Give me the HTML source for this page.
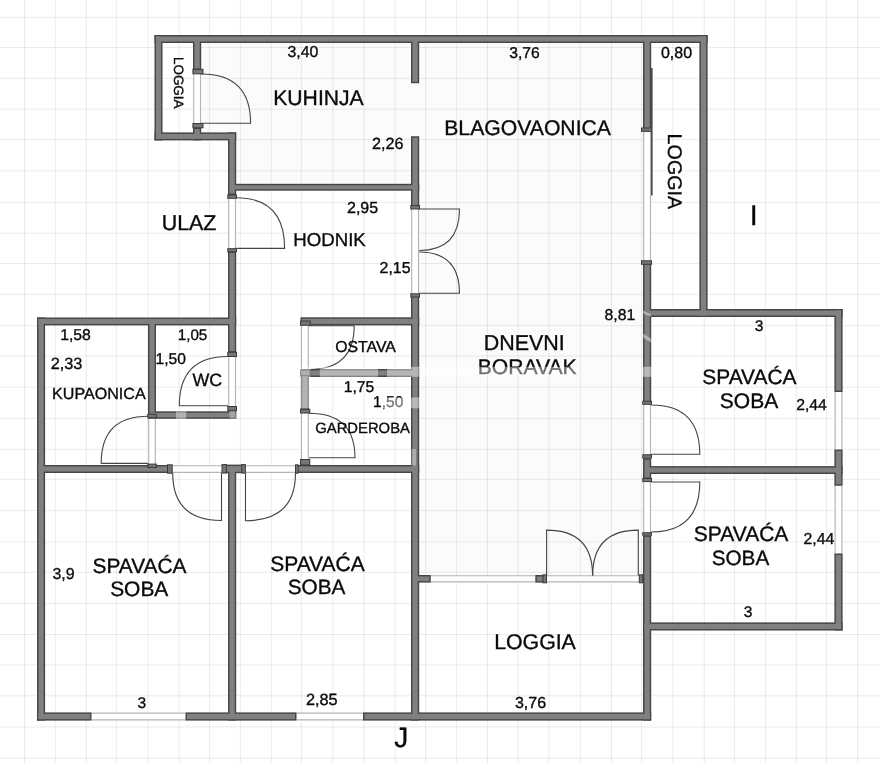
<!DOCTYPE html><html><head><meta charset="utf-8"><style>
html,body{margin:0;padding:0;background:#fff;width:880px;height:763px;overflow:hidden}
svg{display:block;will-change:transform}
text{font-family:"Liberation Sans",sans-serif;fill:#0a0a0a;stroke:#0a0a0a;stroke-width:0.35px;text-rendering:geometricPrecision}
</style></head><body>
<svg width="880" height="763" viewBox="0 0 880 763">
<rect width="880" height="763" fill="#fff"/>
<path d="M201,42 L643.5,42 L643.5,575.5 L418.5,575.5 L418.5,190 L236,190 L236,140 L201,140 Z" fill="#fbfbfb"/>
<path d="M24.5,0V763M55.3,0V763M86.25,0V763M116.4,0V763M147.9,0V763M179.1,0V763M209.6,0V763M240.4,0V763M271.3,0V763M301.3,0V763M332.8,0V763M364,0V763M395.2,0V763M425.7,0V763M456.6,0V763M487.5,0V763M518.1,0V763M548.9,0V763M580.4,0V763M611.5,0V763M641.6,0V763M672.9,0V763M704.3,0V763M734.6,0V763M765.4,0V763M796.3,0V763M826.4,0V763M857.7,0V763" stroke="#000" stroke-opacity="0.08" stroke-width="1.0" fill="none"/>
<path d="M0,17.4H880M0,47.5H880M0,78.4H880M0,109.2H880M0,139.6H880M0,170.8H880M0,202.4H880M0,233.2H880M0,263.5H880M0,294.4H880M0,325.7H880M0,356H880M0,387.2H880M0,418.4H880M0,449.4H880M0,479.4H880M0,510.6H880M0,541.9H880M0,572.3H880M0,603.4H880M0,634.5H880M0,664.9H880M0,695.8H880M0,727H880M0,758.2H880" stroke="#000" stroke-opacity="0.08" stroke-width="1.0" fill="none"/>
<rect x="193" y="70" width="8.2" height="57.5" fill="#fff"/>
<path d="M193.7,70V127.5M200.5,70V127.5" stroke="#b4b4b4" stroke-width="1.15" fill="none"/>
<rect x="228" y="195" width="8.2" height="56.5" fill="#fff"/>
<path d="M228.7,195V251.5M235.5,195V251.5" stroke="#b4b4b4" stroke-width="1.15" fill="none"/>
<rect x="411" y="207" width="8.2" height="88.5" fill="#fff"/>
<path d="M411.7,207V295.5M418.5,207V295.5" stroke="#b4b4b4" stroke-width="1.15" fill="none"/>
<rect x="228" y="352.5" width="8.2" height="55.5" fill="#fff"/>
<path d="M228.7,352.5V408M235.5,352.5V408" stroke="#b4b4b4" stroke-width="1.15" fill="none"/>
<rect x="148" y="414" width="8" height="51" fill="#fff"/>
<path d="M148.7,414V465M155.3,414V465" stroke="#b4b4b4" stroke-width="1.15" fill="none"/>
<rect x="300.8" y="325.4" width="8.2" height="43.6" fill="#fff"/>
<path d="M301.5,325.4V369M308.3,325.4V369" stroke="#b4b4b4" stroke-width="1.15" fill="none"/>
<rect x="300.8" y="410" width="8.2" height="55" fill="#fff"/>
<path d="M301.5,410V465M308.3,410V465" stroke="#b4b4b4" stroke-width="1.15" fill="none"/>
<rect x="171.5" y="465" width="50.5" height="8" fill="#fff"/>
<path d="M171.5,465.7H222M171.5,472.3H222" stroke="#b4b4b4" stroke-width="1.15" fill="none"/>
<rect x="245.5" y="465" width="50" height="8" fill="#fff"/>
<path d="M245.5,465.7H295.5M245.5,472.3H295.5" stroke="#b4b4b4" stroke-width="1.15" fill="none"/>
<rect x="91.5" y="712.4" width="94" height="8.2" fill="#fff"/>
<path d="M91.5,713.1H185.5M91.5,719.9H185.5" stroke="#b4b4b4" stroke-width="1.15" fill="none"/>
<rect x="296.5" y="712.4" width="66.5" height="8.2" fill="#fff"/>
<path d="M296.5,713.1H363M296.5,719.9H363" stroke="#b4b4b4" stroke-width="1.15" fill="none"/>
<rect x="430.75" y="575" width="104.55" height="7.6" fill="#fff"/>
<path d="M430.75,575.7H535.3M430.75,581.9H535.3" stroke="#b4b4b4" stroke-width="1.15" fill="none"/>
<rect x="546.8" y="575" width="96.2" height="7.6" fill="#fff"/>
<path d="M546.8,575.7H643M546.8,581.9H643" stroke="#b4b4b4" stroke-width="1.15" fill="none"/>
<rect x="643" y="131.5" width="8.2" height="129.5" fill="#fff"/>
<path d="M643.7,131.5V261M650.5,131.5V261" stroke="#b4b4b4" stroke-width="1.15" fill="none"/>
<rect x="643" y="404" width="8.2" height="54.5" fill="#fff"/>
<path d="M643.7,404V458.5M650.5,404V458.5" stroke="#b4b4b4" stroke-width="1.15" fill="none"/>
<rect x="643" y="479" width="8.2" height="56.5" fill="#fff"/>
<path d="M643.7,479V535.5M650.5,479V535.5" stroke="#b4b4b4" stroke-width="1.15" fill="none"/>
<rect x="834.4" y="392" width="8.2" height="57.5" fill="#fff"/>
<path d="M835.1,392V449.5M841.9,392V449.5" stroke="#b4b4b4" stroke-width="1.15" fill="none"/>
<rect x="834.4" y="485.75" width="8.2" height="67.75" fill="#fff"/>
<path d="M835.1,485.75V553.5M841.9,485.75V553.5" stroke="#b4b4b4" stroke-width="1.15" fill="none"/>
<g fill="#464646">
<rect x="154.5" y="35" width="553.1" height="8"/>
<rect x="154.5" y="35" width="8" height="105.4"/>
<rect x="154.5" y="132.4" width="81.7" height="8"/>
<rect x="193" y="37" width="8.2" height="33"/>
<rect x="193" y="127.5" width="8.2" height="12.9"/>
<rect x="228" y="132.4" width="8.2" height="62.6"/>
<rect x="228" y="183.8" width="191.2" height="6.9"/>
<rect x="411" y="37" width="8.2" height="46.25"/>
<rect x="411" y="136.25" width="8.2" height="70.75"/>
<rect x="228" y="251.5" width="8.2" height="101"/>
<rect x="37" y="317.5" width="199.2" height="7.9"/>
<rect x="37" y="317.5" width="8.1" height="403.1"/>
<rect x="148" y="320" width="8" height="94"/>
<rect x="148" y="411.3" width="88.2" height="7.5"/>
<rect x="228" y="408" width="8.2" height="10.8"/>
<rect x="37" y="465" width="134.5" height="8"/>
<rect x="222" y="464.6" width="23.5" height="8.6"/>
<rect x="228" y="465" width="8.2" height="255.6"/>
<rect x="295.5" y="465" width="123.7" height="8"/>
<rect x="37" y="712.4" width="54.5" height="8.2"/>
<rect x="185.5" y="712.4" width="111" height="8.2"/>
<rect x="363" y="712.4" width="288.2" height="8.2"/>
<rect x="411" y="295.5" width="8.2" height="425.1"/>
<rect x="300.5" y="317.3" width="118.7" height="8.1"/>
<rect x="300.5" y="369" width="118.7" height="8"/>
<rect x="300.8" y="369" width="8.2" height="41"/>
<rect x="412" y="575" width="18.75" height="7.6"/>
<rect x="535.3" y="575" width="11.5" height="7.6"/>
<rect x="643" y="37" width="8.2" height="94.5"/>
<rect x="643" y="261" width="8.2" height="143"/>
<rect x="643" y="458.5" width="8.2" height="20.5"/>
<rect x="643" y="535.5" width="8.2" height="185.1"/>
<rect x="699.4" y="35" width="8.2" height="282"/>
<rect x="643" y="309" width="199.6" height="8"/>
<rect x="834.4" y="309" width="8.2" height="83"/>
<rect x="834.4" y="449.5" width="8.2" height="36.25"/>
<rect x="834.4" y="553.5" width="8.2" height="77"/>
<rect x="644" y="466.1" width="198.6" height="7.9"/>
<rect x="643" y="622.4" width="199.6" height="8.1"/>
</g>
<g fill="#808080">
<rect x="155.95" y="36.45" width="550.2" height="5.1"/>
<rect x="155.95" y="36.45" width="5.1" height="102.5"/>
<rect x="155.95" y="133.85" width="78.8" height="5.1"/>
<rect x="194.45" y="38.45" width="5.3" height="30.1"/>
<rect x="194.45" y="128.95" width="5.3" height="10"/>
<rect x="229.45" y="133.85" width="5.3" height="59.7"/>
<rect x="229.45" y="185.25" width="188.3" height="4"/>
<rect x="412.45" y="38.45" width="5.3" height="43.35"/>
<rect x="412.45" y="137.7" width="5.3" height="67.85"/>
<rect x="229.45" y="252.95" width="5.3" height="98.1"/>
<rect x="38.45" y="318.95" width="196.3" height="5"/>
<rect x="38.45" y="318.95" width="5.2" height="400.2"/>
<rect x="149.45" y="321.45" width="5.1" height="91.1"/>
<rect x="149.45" y="412.75" width="85.3" height="4.6"/>
<rect x="229.45" y="409.45" width="5.3" height="7.9"/>
<rect x="38.45" y="466.45" width="131.6" height="5.1"/>
<rect x="223.45" y="466.05" width="20.6" height="5.7"/>
<rect x="229.45" y="466.45" width="5.3" height="252.7"/>
<rect x="296.95" y="466.45" width="120.8" height="5.1"/>
<rect x="38.45" y="713.85" width="51.6" height="5.3"/>
<rect x="186.95" y="713.85" width="108.1" height="5.3"/>
<rect x="364.45" y="713.85" width="285.3" height="5.3"/>
<rect x="412.45" y="296.95" width="5.3" height="422.2"/>
<rect x="301.95" y="318.75" width="115.8" height="5.2"/>
<rect x="301.95" y="370.45" width="115.8" height="5.1"/>
<rect x="302.25" y="370.45" width="5.3" height="38.1"/>
<rect x="413.45" y="576.45" width="15.85" height="4.7"/>
<rect x="536.75" y="576.45" width="8.6" height="4.7"/>
<rect x="644.45" y="38.45" width="5.3" height="91.6"/>
<rect x="644.45" y="262.45" width="5.3" height="140.1"/>
<rect x="644.45" y="459.95" width="5.3" height="17.6"/>
<rect x="644.45" y="536.95" width="5.3" height="182.2"/>
<rect x="700.85" y="36.45" width="5.3" height="279.1"/>
<rect x="644.45" y="310.45" width="196.7" height="5.1"/>
<rect x="835.85" y="310.45" width="5.3" height="80.1"/>
<rect x="835.85" y="450.95" width="5.3" height="33.35"/>
<rect x="835.85" y="554.95" width="5.3" height="74.1"/>
<rect x="645.45" y="467.55" width="195.7" height="5"/>
<rect x="644.45" y="623.85" width="196.7" height="5.2"/>
</g>
<g fill="#767676" stroke="#3a3a3a" stroke-width="1">
<rect x="192.9" y="69.3" width="10.1" height="4.5"/>
<rect x="192.9" y="123.5" width="10.1" height="4.3"/>
<rect x="227.8" y="194.9" width="8.7" height="3.4"/>
<rect x="227.8" y="248.7" width="8.7" height="3.1"/>
<rect x="410.8" y="205.5" width="8.7" height="3.5"/>
<rect x="410.8" y="293.8" width="8.7" height="3.3"/>
<rect x="227.8" y="352.3" width="8.7" height="4.2"/>
<rect x="227.8" y="406.5" width="8.7" height="4.2"/>
<rect x="147.8" y="414.3" width="8.5" height="3.4"/>
<rect x="147.8" y="464.1" width="8.5" height="3.4"/>
<rect x="300.5" y="321" width="9.7" height="4.2"/>
<rect x="300.5" y="370.2" width="9.7" height="5.3"/>
<rect x="300.5" y="409.3" width="9.3" height="3.7"/>
<rect x="300.5" y="459.5" width="9.3" height="5.4"/>
<rect x="167.5" y="464.8" width="4.7" height="8.4"/>
<rect x="222" y="464.6" width="4.4" height="8.4"/>
<rect x="241.7" y="464.6" width="3.6" height="8.4"/>
<rect x="295.5" y="464.8" width="2.6" height="8.4"/>
<rect x="543" y="574.8" width="3.5" height="8"/>
<rect x="639.3" y="574.8" width="3.4" height="8"/>
<rect x="642.8" y="401.3" width="8.7" height="3"/>
<rect x="642.8" y="454.8" width="8.7" height="3.3"/>
<rect x="642.8" y="478.4" width="8.7" height="3.2"/>
<rect x="642.8" y="532.7" width="8.7" height="2.5"/>
<rect x="641.5" y="128" width="10" height="3.3"/>
<rect x="641.5" y="260.8" width="10" height="3.5"/>
</g>
<g stroke="#444444" stroke-width="1.1" fill="none">
<path d="M201.2,123.3 L250.6,123.3 Q250.6,74 201.2,74"/>
<path d="M236.2,248.4 L284.6,248.4 Q284.6,197.8 236.2,197.8"/>
<path d="M419.2,209 L459.5,209 Q459.5,250.5 419.2,250.5"/>
<path d="M419.2,293.3 L459.5,293.3 Q459.5,252 419.2,252"/>
<path d="M228,405.7 L179.3,405.7 Q179.3,356.5 228,356.5"/>
<path d="M148,463.4 L101.2,463.4 Q101.2,416.3 148,416.3"/>
<path d="M309,325.8 L354.2,325.8 Q354.2,369.5 309,369.5"/>
<path d="M309,457.7 L355,457.7 Q355,413.2 309,413.2"/>
<path d="M221.5,473 L221.5,520.5 Q172.7,520.5 172.7,473"/>
<path d="M245.5,473 L245.5,520.7 Q295.5,520.7 295.5,473"/>
<path d="M546.6,575.5 L546.6,530.1 Q592.6,530.1 592.6,575.5"/>
<path d="M638.3,575.5 L638.3,530.1 Q592.7,530.1 592.7,575.5"/>
<path d="M651.2,454.3 L699.8,454.3 Q699.8,405 651.2,405"/>
<path d="M651.2,482 L699.8,482 Q699.8,532 651.2,532"/>
</g>
<rect x="651" y="68" width="1.6" height="127.5" fill="#4a4a4a"/>
<g opacity="0.999">
<text x="287.52" y="57.37" font-size="15.85">3,40</text>
<text x="509.23" y="57.89" font-size="15.61">3,76</text>
<text x="660.97" y="58.27" font-size="16.01">0,80</text>
<text x="273.26" y="104.67" font-size="21.15">KUHINJA</text>
<text x="444.26" y="134.81" font-size="21.18">BLAGOVAONICA</text>
<text x="371.99" y="148.53" font-size="16.18">2,26</text>
<text x="161.7" y="229.99" font-size="21.42">ULAZ</text>
<text x="293.31" y="246.48" font-size="18.65">HODNIK</text>
<text x="347" y="213.03" font-size="16.02">2,95</text>
<text x="379.61" y="272.62" font-size="15.86">2,15</text>
<text x="749.76" y="224.98" font-size="28.5">I</text>
<text x="604.57" y="320.08" font-size="15.75">8,81</text>
<text x="754.79" y="331.3" font-size="15.5">3</text>
<text x="60.2" y="339.74" font-size="15.76">1,58</text>
<text x="177.73" y="339.55" font-size="15.22">1,05</text>
<text x="50.79" y="368.8" font-size="16.24">2,33</text>
<text x="155.51" y="363.83" font-size="15.6">1,50</text>
<text x="52.11" y="398.85" font-size="16.08">KUPAONICA</text>
<text x="192.5" y="386.44" font-size="17.81">WC</text>
<text x="335.17" y="352.01" font-size="15.83">OSTAVA</text>
<text x="343.7" y="391.62" font-size="15.71">1,75</text>
<text x="373.01" y="406.88" font-size="15.6">1,50</text>
<text x="315.26" y="432.61" font-size="14.82">GARDEROBA</text>
<text x="483.78" y="350.25" font-size="21.44">DNEVNI</text>
<text x="477.71" y="374.14" font-size="21.13">BORAVAK</text>
<text x="702.36" y="384.12" font-size="20.92">SPAVAĆA</text>
<text x="719.86" y="407.95" font-size="21.01">SOBA</text>
<text x="796.21" y="409.74" font-size="15.77">2,44</text>
<text x="693.86" y="540.89" font-size="20.99">SPAVAĆA</text>
<text x="711.67" y="564.7" font-size="20.72">SOBA</text>
<text x="803.51" y="543.66" font-size="15.83">2,44</text>
<text x="743.74" y="616.55" font-size="15.5">3</text>
<text x="52.52" y="578.94" font-size="15.91">3,9</text>
<text x="92.56" y="573.1" font-size="20.88">SPAVAĆA</text>
<text x="110.16" y="595.67" font-size="20.94">SOBA</text>
<text x="270.26" y="571.19" font-size="20.99">SPAVAĆA</text>
<text x="287.77" y="594.45" font-size="20.72">SOBA</text>
<text x="494.2" y="649" font-size="21.29">LOGGIA</text>
<text x="514.92" y="707.57" font-size="16.01">3,76</text>
<text x="137.39" y="707.85" font-size="15.5">3</text>
<text x="305.89" y="705.22" font-size="16.29">2,85</text>
<text x="394.29" y="747.26" font-size="28">J</text>
<text transform="translate(173.55,56.92) rotate(90)" font-size="13.47">LOGGIA</text>
<text transform="translate(668.45,133.62) rotate(90)" font-size="19.72">LOGGIA</text>
</g>
<g fill="#fff">
<rect x="296" y="366.8" width="14.6" height="10" fill-opacity="0.42"/>
<rect x="319.8" y="366.8" width="58.2" height="10" fill-opacity="0.42"/>
<rect x="387" y="366.8" width="193" height="10" fill-opacity="0.42"/>
<rect x="642.5" y="366.8" width="9.3" height="10" fill-opacity="0.45"/>
<rect x="300" y="376.8" width="10" height="31.5" fill-opacity="0.4"/>
<rect x="381.5" y="397.5" width="38.5" height="10.8" fill-opacity="0.45"/>
<rect x="176" y="411.3" width="10.2" height="7.6" fill-opacity="0.4"/>
<rect x="229.5" y="411.3" width="6.7" height="7.6" fill-opacity="0.3"/>
<rect x="411.4" y="449" width="4.6" height="16.5" fill-opacity="0.35"/>
<path d="M643,310.6 L651,314.2 L651,316.8 L643,313.2Z" fill-opacity="0.4"/>
<path d="M643,333.6 L651,338.6 L651,342.6 L643,337.6Z" fill-opacity="0.4"/>
</g>
</svg></body></html>
